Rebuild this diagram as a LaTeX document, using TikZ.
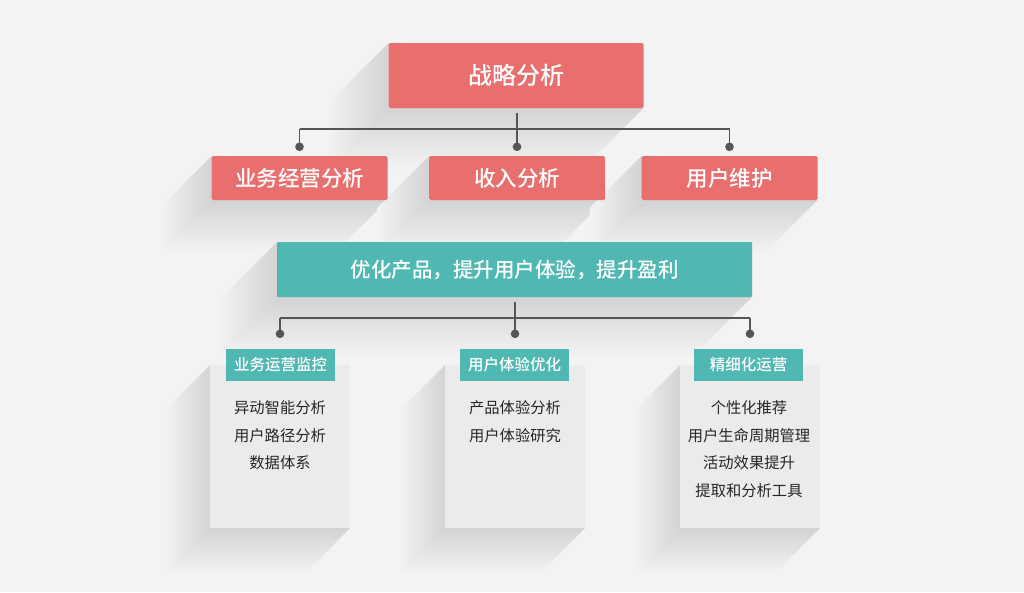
\documentclass[tikz,border=0pt]{standalone}
\usepackage{fontspec}
\newfontfamily\cjk{Noto Sans CJK SC}
\newfontfamily\cjkm{Noto Sans CJK SC Medium}
\definecolor{bg}{HTML}{F3F3F3}
\definecolor{shd}{HTML}{D3D3D3}
\definecolor{redbox}{HTML}{E96F6F}
\definecolor{tealbox}{HTML}{50B8B2}
\definecolor{cardc}{HTML}{EBEBEB}
\definecolor{linec}{HTML}{555555}
\definecolor{txt}{HTML}{262626}
% long shadow toward bottom-left: x1,y1 (top-left), x2,y2 (bottom-right), length
\newcommand\myshadow[5]{%
  \shade[top color=shd,bottom color=bg] (#1,#4) -- (#3,#4) -- ({#3-#5},{#4+#5}) -- ({#1-#5},{#4+#5}) -- cycle;
  \shade[left color=bg,right color=shd] (#1,#2) -- (#1,#4) -- ({#1-#5},{#4+#5}) -- ({#1-#5},{#2+#5}) -- cycle;
}
\tikzset{
  redb/.style={fill=redbox, rounded corners=1.5pt, text=white, inner sep=0pt, font=\cjkm},
  tealb/.style={fill=tealbox, rounded corners=1pt, text=white, inner sep=0pt, font=\cjkm},
  cardb/.style={fill=cardc, inner sep=0pt, minimum width=140pt, minimum height=163pt},
  itemt/.style={text=txt, inner sep=0pt, font=\cjk\fontsize{15.3}{18}\selectfont},
  conn/.style={draw=linec, line width=1.8pt},
  dot/.style={fill=linec}
}
\begin{document}
\begin{tikzpicture}[x=1pt,y=-1pt]
\fill[bg] (0,0) rectangle (1024,592);
\useasboundingbox (0,0) rectangle (1024,592);
% shadows
\myshadow{388.5}{43}{643.5}{108}{62}
\myshadow{211.5}{156}{387.5}{200}{52}
\myshadow{429}{156}{605}{200}{52}
\myshadow{641.5}{156}{817.5}{200}{52}
\myshadow{277}{242}{752}{297}{60}
\myshadow{210}{365}{350}{528}{45}
\myshadow{445}{365}{585}{528}{45}
\myshadow{680}{365}{820}{528}{45}
% boxes
\node[redb, minimum width=255pt, minimum height=65pt, font=\cjkm\fontsize{24}{26}\selectfont] (top) at (516,75.5) {战略分析};
\node[redb, minimum width=176pt, minimum height=44pt, font=\cjkm\fontsize{21.5}{24}\selectfont] (b1) at (299.5,178) {业务经营分析};
\node[redb, minimum width=176pt, minimum height=44pt, font=\cjkm\fontsize{21.5}{24}\selectfont] (b2) at (517,178) {收入分析};
\node[redb, minimum width=176pt, minimum height=44pt, font=\cjkm\fontsize{21.5}{24}\selectfont] (b3) at (729.5,178) {用户维护};
\node[tealb, minimum width=475pt, minimum height=55pt, font=\cjkm\fontsize{20.5}{24}\selectfont] (mid) at (514.5,269.5) {优化产品，提升用户体验，提升盈利};
% cards
\node[cardb] (c1) at (280,446.5) {};
\node[cardb] (c2) at (515,446.5) {};
\node[cardb] (c3) at (750,446.5) {};
\node[tealb, rounded corners=0pt, minimum width=109pt, minimum height=32pt, font=\cjkm\fontsize{15.5}{18}\selectfont] (l1) at (280.5,365) {业务运营监控};
\node[tealb, rounded corners=0pt, minimum width=109pt, minimum height=32pt, font=\cjkm\fontsize{15.5}{18}\selectfont] (l2) at (514.5,365) {用户体验优化};
\node[tealb, rounded corners=0pt, minimum width=109pt, minimum height=32pt, font=\cjkm\fontsize{15.5}{18}\selectfont] (l3) at (748.5,365) {精细化运营};
% card items
\node[itemt] (c1a) at (280,408) {异动智能分析};
\node[itemt] (c1b) at (280,435.5) {用户路径分析};
\node[itemt] (c1c) at (280,463) {数据体系};
\node[itemt] (c2a) at (515,408) {产品体验分析};
\node[itemt] (c2b) at (515,435.5) {用户体验研究};
\node[itemt] (c3a) at (749,408) {个性化推荐};
\node[itemt] (c3b) at (749,435.5) {用户生命周期管理};
\node[itemt] (c3c) at (749,463) {活动效果提升};
\node[itemt] (c3d) at (749,490.5) {提取和分析工具};
% connectors top
\coordinate (j1) at (517,129);
\draw[conn] ([yshift=-5pt]top.south -| b2.north) -- (b2.north |- j1);
\draw[conn] (b1.north |- j1) -- ([yshift=9pt]b1.north);
\draw[conn] (b3.north |- j1) -- ([yshift=9pt]b3.north);
\draw[conn] (b1.north |- j1) -- (b3.north |- j1);
\draw[conn] (b2.north |- j1) -- ([yshift=9pt]b2.north);
\fill[dot] ([yshift=9pt]b1.north) circle (4.3pt);
\fill[dot] ([yshift=9pt]b2.north) circle (4.3pt);
\fill[dot] ([yshift=9pt]b3.north) circle (4.3pt);
% connectors middle
\coordinate (j2) at (515,318);
\draw[conn] ([yshift=-5pt]mid.south -| c2.north) -- (c2.north |- j2);
\draw[conn] (c1.north |- j2) -- ([yshift=15pt]l1.north -| c1.north);
\draw[conn] (c2.north |- j2) -- ([yshift=15pt]l2.north -| c2.north);
\draw[conn] (c3.north |- j2) -- ([yshift=15pt]l3.north -| c3.north);
\draw[conn] (c1.north |- j2) -- (c3.north |- j2);
\fill[dot] ([yshift=15pt]l1.north -| c1.north) circle (4.3pt);
\fill[dot] ([yshift=15pt]l2.north -| c2.north) circle (4.3pt);
\fill[dot] ([yshift=15pt]l3.north -| c3.north) circle (4.3pt);
\end{tikzpicture}
\end{document}
